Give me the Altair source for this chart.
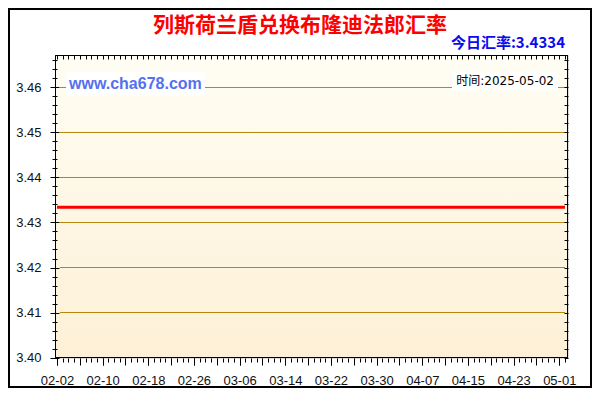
import altair as alt
import pandas as pd

# ---- data ----
TITLE = "列斯荷兰盾兑换布隆迪法郎汇率"
TODAY = "今日汇率:3.4334"
SITE = "www.cha678.com"
STAMP = "时间:2025-05-02"

dates = ["2025-02-02", "2025-05-02"]
rates = [3.4334, 3.4334]

x_label_dates = ["2025-02-02", "2025-02-10", "2025-02-18", "2025-02-26",
                 "2025-03-06", "2025-03-14", "2025-03-22", "2025-03-30",
                 "2025-04-07", "2025-04-15", "2025-04-23", "2025-05-01"]
x_labels = ["02-02", "02-10", "02-18", "02-26", "03-06", "03-14",
            "03-22", "03-30", "04-07", "04-15", "04-23", "05-01"]
y_labels = [3.40, 3.41, 3.42, 3.43, 3.44, 3.45, 3.46]

# ---- derived tables ----
start = pd.Timestamp(dates[0])
day_of = lambda d: (pd.Timestamp(d) - start).days
df = pd.DataFrame({"day": [day_of(d) for d in dates], "rate": rates})
last_day = day_of(dates[-1])
label_days = [day_of(d) for d in x_label_dates]
daily = list(range(0, last_day + 1))
four_day = list(range(0, last_day + 1, 4))
y_minor = [round(3.400 + 0.002 * i, 3) for i in range(34)]
grid_df = pd.DataFrame({"g": y_labels})

W, H = 513, 303
x_scale = alt.Scale(domain=[-0.35, last_day + 0.53], nice=False, zero=False)
y_scale = alt.Scale(domain=[3.3998889, 3.4672222], nice=False, zero=False)

NUM_FONT = "Liberation Sans"
CJK_FONT = "Noto Sans CJK SC"
GRID = "#B8860B"

label_arr = "[" + ",".join("'%s'" % s for s in x_labels) + "]"

base = alt.Chart(df)


def axis_layer(xaxis, yaxis):
    return base.mark_line(opacity=0).encode(
        x=alt.X("day:Q", scale=x_scale, axis=xaxis),
        y=alt.Y("rate:Q", scale=y_scale, axis=yaxis),
    )


common = dict(domain=False, grid=False, title=None, zindex=2, tickColor="#000", tickWidth=1)

ax1 = axis_layer(
    alt.Axis(orient="bottom", values=daily, tickSize=4, labels=False, offset=0, **common),
    alt.Axis(orient="left", values=y_minor, tickSize=5, labels=False, offset=-2, **common),
)
ax2 = axis_layer(
    alt.Axis(orient="bottom", values=four_day, tickSize=7, labels=False, offset=0, **common),
    alt.Axis(orient="left", values=y_labels, tickSize=9, offset=-4, labelPadding=9,
             format=".2f", labelFont=NUM_FONT, labelFontSize=13, labelColor="#111",
             labelOverlap=False, labelFlush=False, **common),
)
ax3 = axis_layer(
    alt.Axis(orient="bottom", values=label_days, tickSize=7, labelPadding=9,
             labelExpr=label_arr + "[round(datum.value/8)]",
             labelFont=NUM_FONT, labelFontSize=13, labelColor="#111",
             labelOverlap=False, labelFlush=False, **common),
    alt.Axis(orient="right", values=y_minor, tickSize=4, labels=False, offset=-4, **common),
)
ax4 = axis_layer(
    alt.Axis(orient="top", values=daily, tickSize=4, labels=False, offset=-4, **common),
    None,
)

bg = base.mark_rect(
    fill=alt.Gradient(gradient="linear", x1=0, x2=0, y1=0, y2=1,
                      stops=[alt.GradientStop(offset=0, color="#FFFEF4"),
                             alt.GradientStop(offset=1, color="#FDF0D6")]),
).encode(x=alt.value(0), x2=alt.value(W), y=alt.value(0), y2=alt.value(H))

border = base.mark_rect(fill=None, stroke="#000", strokeWidth=1).encode(
    x=alt.value(0.5), x2=alt.value(W - 0.5), y=alt.value(0.5), y2=alt.value(H - 0.5))

grid = alt.Chart(grid_df).mark_rule(color=GRID, strokeWidth=1).encode(
    x=alt.value(5), x2=alt.value(W - 3),
    y=alt.Y("g:Q", scale=y_scale, axis=None),
)

one = alt.Data(values=[{"a": 1}])
site_box = alt.Chart(one).mark_rect(fill="white").encode(
    x=alt.value(11), x2=alt.value(150), y=alt.value(17), y2=alt.value(41))
stamp_box = alt.Chart(one).mark_rect(fill="white").encode(
    x=alt.value(397), x2=alt.value(503), y=alt.value(17), y2=alt.value(35))

site_txt = alt.Chart(one).mark_text(
    text=SITE, align="left", baseline="middle", font=NUM_FONT, fontSize=16,
    fontWeight="bold", color="#5470EE").encode(x=alt.value(14), y=alt.value(29))
stamp_txt = alt.Chart(one).mark_text(
    text=STAMP, align="right", baseline="middle", font="DejaVu Sans, Noto Sans CJK SC",
    fontSize=12, color="#000").encode(x=alt.value(499), y=alt.value(26))
title_txt = alt.Chart(one).mark_text(
    text=TITLE, align="center", baseline="middle", font=CJK_FONT, fontSize=21,
    fontWeight="bold", color="#FF0000").encode(x=alt.value(245), y=alt.value(-29))
today_txt = alt.Chart(one).mark_text(
    text=TODAY, align="right", baseline="middle", font=CJK_FONT, fontSize=15,
    fontWeight="bold", color="#0A0AEE").encode(x=alt.value(510), y=alt.value(-12))

frame = alt.Chart(one).mark_rect(fill=None, stroke="#000", strokeWidth=2).encode(
    x=alt.value(-46), x2=alt.value(536), y=alt.value(-46), y2=alt.value(332))

line = base.mark_line(color="#FF0000", strokeWidth=3).encode(
    x=alt.X("day:Q", scale=x_scale, axis=None),
    y=alt.Y("rate:Q", scale=y_scale, axis=None),
)

chart = alt.layer(
    bg, grid, site_box, stamp_box, site_txt, stamp_txt, title_txt, today_txt,
    frame, line, border, ax1, ax2, ax3, ax4,
).resolve_axis(x="independent", y="independent").properties(
    width=W, height=H,
    autosize=alt.AutoSizeParams(type="none"),
    padding={"left": 47, "top": 47, "right": 24, "bottom": 30},
).configure_view(stroke=None).configure(background="white")

chart.save("out.html", embed_options={"renderer": "svg", "actions": False})
